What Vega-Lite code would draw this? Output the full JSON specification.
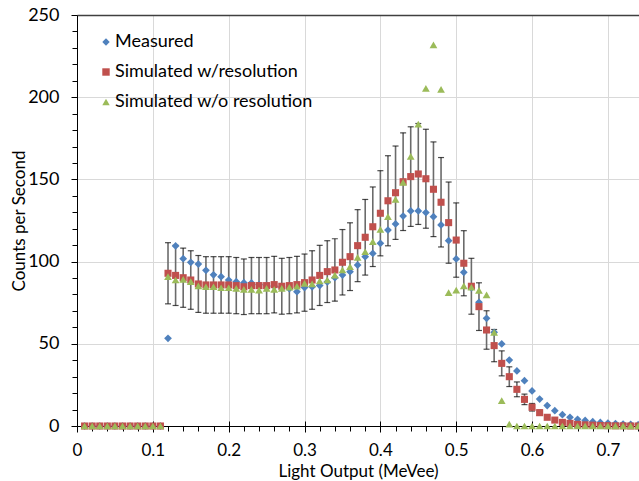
{
  "$schema": "https://vega.github.io/schema/vega-lite/v6.json",
  "width": 562,
  "height": 411,
  "autosize": {"type": "none"},
  "padding": {"left": 77, "top": 15, "right": 0, "bottom": 55},
  "background": "white",
  "config": {"view": {"stroke": null}, "font": "Lato"},
  "data": {"values": [
    {"x":0.01,"m":0,"r":0,"g":0},{"x":0.02,"m":0,"r":0,"g":0},{"x":0.03,"m":0,"r":0,"g":0},{"x":0.04,"m":0,"r":0,"g":0},{"x":0.05,"m":0,"r":0,"g":0},{"x":0.06,"m":0,"r":0,"g":0},{"x":0.07,"m":0,"r":0,"g":0},{"x":0.08,"m":0,"r":0,"g":0},{"x":0.09,"m":0,"r":0,"g":0},{"x":0.10,"m":0,"r":0,"g":0},{"x":0.11,"m":0,"r":0,"g":0},
    {"x":0.12,"m":53.3,"r":92.9,"g":90.8,"lo":74.3,"hi":111.5},
    {"x":0.13,"m":109.5,"r":91.6,"g":88.8,"lo":73.3,"hi":109.9},
    {"x":0.14,"m":101.8,"r":90.2,"g":89.2,"lo":72.2,"hi":108.2},
    {"x":0.15,"m":99.6,"r":88.8,"g":87.8,"lo":71.0,"hi":106.6},
    {"x":0.16,"m":98.5,"r":86.4,"g":85.2,"lo":69.1,"hi":103.7},
    {"x":0.17,"m":94.7,"r":85.8,"g":84.7,"lo":68.6,"hi":103.0},
    {"x":0.18,"m":92.0,"r":85.8,"g":84.7,"lo":68.6,"hi":103.0},
    {"x":0.19,"m":90.8,"r":85.8,"g":84.1,"lo":68.6,"hi":103.0},
    {"x":0.20,"m":88.8,"r":85.8,"g":84.1,"lo":68.6,"hi":103.0},
    {"x":0.21,"m":87.8,"r":85.4,"g":83.7,"lo":68.3,"hi":102.5},
    {"x":0.22,"m":87.2,"r":84.7,"g":83.1,"lo":67.8,"hi":101.6},
    {"x":0.23,"m":87.0,"r":85.4,"g":83.1,"lo":68.3,"hi":102.5},
    {"x":0.24,"m":86.0,"r":85.4,"g":82.7,"lo":68.3,"hi":102.5},
    {"x":0.25,"m":85.5,"r":85.4,"g":83.7,"lo":68.3,"hi":102.5},
    {"x":0.26,"m":85.0,"r":86.0,"g":83.1,"lo":68.8,"hi":103.2},
    {"x":0.27,"m":84.5,"r":85.0,"g":83.7,"lo":68.0,"hi":102.0},
    {"x":0.28,"m":83.5,"r":85.4,"g":84.4,"lo":68.3,"hi":102.5},
    {"x":0.29,"m":81.7,"r":86.0,"g":85.0,"lo":68.8,"hi":103.2},
    {"x":0.30,"m":84.2,"r":87.2,"g":86.8,"lo":69.8,"hi":104.6},
    {"x":0.31,"m":84.7,"r":88.8,"g":86.4,"lo":71.0,"hi":106.6},
    {"x":0.32,"m":85.4,"r":91.6,"g":88.2,"lo":73.3,"hi":109.9},
    {"x":0.33,"m":87.6,"r":93.9,"g":88.8,"lo":75.1,"hi":112.7},
    {"x":0.34,"m":90.2,"r":94.9,"g":91.8,"lo":75.9,"hi":113.9},
    {"x":0.35,"m":91.8,"r":99.6,"g":94.9,"lo":79.7,"hi":119.5},
    {"x":0.36,"m":93.9,"r":103.0,"g":96.9,"lo":82.4,"hi":123.6},
    {"x":0.37,"m":97.9,"r":109.7,"g":102.6,"lo":87.8,"hi":131.6},
    {"x":0.38,"m":103.0,"r":114.8,"g":106.0,"lo":91.8,"hi":137.8},
    {"x":0.39,"m":105.0,"r":121.2,"g":112.1,"lo":97.0,"hi":145.4},
    {"x":0.40,"m":111.1,"r":129.4,"g":119.6,"lo":103.5,"hi":155.3},
    {"x":0.41,"m":119.2,"r":137.0,"g":127.3,"lo":109.6,"hi":164.4},
    {"x":0.42,"m":122.9,"r":141.9,"g":137.9,"lo":113.5,"hi":170.3},
    {"x":0.43,"m":127.7,"r":148.6,"g":148.2,"lo":118.9,"hi":178.3},
    {"x":0.44,"m":130.8,"r":151.7,"g":164.0,"lo":121.4,"hi":182.0},
    {"x":0.45,"m":130.8,"r":153.3,"g":183.6,"lo":122.6,"hi":184.0},
    {"x":0.46,"m":129.8,"r":150.4,"g":205.4,"lo":120.3,"hi":180.5},
    {"x":0.47,"m":127.3,"r":144.0,"g":231.8,"lo":115.2,"hi":172.8},
    {"x":0.48,"m":122.3,"r":136.1,"g":204.8,"lo":108.9,"hi":163.3},
    {"x":0.49,"m":112.7,"r":123.7,"g":81.1,"lo":99.0,"hi":148.4},
    {"x":0.50,"m":101.6,"r":113.1,"g":82.7,"lo":90.5,"hi":135.7},
    {"x":0.51,"m":93.5,"r":99.0,"g":85.2,"lo":79.2,"hi":118.8},
    {"x":0.52,"m":84.0,"r":85.0,"g":84.4,"lo":68.0,"hi":102.0},
    {"x":0.53,"m":75.2,"r":72.6,"g":82.5,"lo":58.1,"hi":87.1},
    {"x":0.54,"m":65.5,"r":58.4,"g":79.7,"lo":46.7,"hi":70.1},
    {"x":0.55,"m":57.0,"r":48.9,"g":57.0,"lo":39.1,"hi":58.7},
    {"x":0.56,"m":49.9,"r":38.1,"g":15.4,"lo":30.5,"hi":45.7},
    {"x":0.57,"m":40.1,"r":30.0,"g":1.2,"lo":24.0,"hi":36.0},
    {"x":0.58,"m":33.5,"r":22.3,"g":0,"lo":17.8,"hi":26.8},
    {"x":0.59,"m":27.6,"r":16.2,"g":0,"lo":13.0,"hi":19.4},
    {"x":0.60,"m":21.3,"r":11.4,"g":0,"lo":9.1,"hi":13.7},
    {"x":0.61,"m":16.4,"r":8.1,"g":0,"lo":6.5,"hi":9.7},
    {"x":0.62,"m":12.4,"r":5.3,"g":0,"lo":4.2,"hi":6.4},
    {"x":0.63,"m":9.3,"r":3.6,"g":0,"lo":2.9,"hi":4.3},
    {"x":0.64,"m":6.9,"r":2.2,"g":0,"lo":1.8,"hi":2.6},
    {"x":0.65,"m":5.3,"r":1.6,"g":0,"lo":1.3,"hi":1.9},
    {"x":0.66,"m":4.1,"r":1.0,"g":0,"lo":0.8,"hi":1.2},
    {"x":0.67,"m":3.4,"r":0.7,"g":0},
    {"x":0.68,"m":2.6,"r":0.5,"g":0},
    {"x":0.69,"m":2.2,"r":0.3,"g":0},
    {"x":0.70,"m":1.8,"r":0.2,"g":0},
    {"x":0.71,"m":1.5,"r":0.1,"g":0},
    {"x":0.72,"m":1.2,"r":0.1,"g":0},
    {"x":0.73,"m":1.0,"r":0,"g":0},
    {"x":0.74,"m":0.8,"r":0,"g":0}
  ]},
  "resolve": {"axis": {"x": "independent", "y": "independent"}},
  "layer": [
    {
      "transform": [{"filter": "datum.hi != null"}],
      "mark": {"type": "rule", "color": "#6b6b6b", "strokeWidth": 1.6},
      "encoding": {
        "x": {"field": "x", "type": "quantitative", "scale": {"domain": [0, 0.741], "nice": false, "zero": false},
          "axis": {"orient": "bottom", "values": [0, 0.1, 0.2, 0.3, 0.4, 0.5, 0.6, 0.7], "format": "~g",
            "title": "Light Output (MeVee)", "titleFont": "Lato", "titleFontSize": 17, "titleFontWeight": "normal", "titleColor": "#000", "titlePadding": 5, "titleBaseline": "top",
            "labelFont": "Lato", "labelFontSize": 17, "labelColor": "#000", "labelPadding": 10, "labelFlush": false,
            "grid": true, "gridColor": "#d9d9d9", "gridWidth": 1,
            "domainColor": "#000", "domainWidth": 1, "tickColor": "#000", "tickSize": 6, "tickWidth": 1}},
        "y": {"field": "lo", "type": "quantitative", "scale": {"domain": [0, 250], "nice": false},
          "axis": {"orient": "left", "values": [0, 50, 100, 150, 200, 250], "format": "d",
            "title": "Counts per Second", "titleFont": "Lato", "titleFontSize": 17, "titleFontWeight": "normal", "titleColor": "#000", "titlePadding": -1,
            "labelFont": "Lato", "labelFontSize": 18, "labelColor": "#000", "labelPadding": 12,
            "grid": true,
            "gridColor": {"condition": {"test": "datum.value === 250", "value": "#404040"}, "value": "#d9d9d9"},
            "gridWidth": {"condition": {"test": "datum.value === 250", "value": 1.5}, "value": 1},
            "domainColor": "#000", "domainWidth": 1, "tickColor": "#000", "tickSize": 6, "tickWidth": 1}},
        "y2": {"field": "hi"}
      }
    },
    {
      "transform": [{"filter": "datum.hi != null"}],
      "mark": {"type": "tick", "orient": "horizontal", "size": 6, "thickness": 1.2, "color": "#000"},
      "encoding": {
        "x": {"field": "x", "type": "quantitative", "scale": {"domain": [0, 0.741], "nice": false, "zero": false},
          "axis": {"orient": "bottom", "values": [0.02, 0.04, 0.06, 0.08, 0.12, 0.14, 0.16, 0.18, 0.22, 0.24, 0.26, 0.28, 0.32, 0.34, 0.36, 0.38, 0.42, 0.44, 0.46, 0.48, 0.52, 0.54, 0.56, 0.58, 0.62, 0.64, 0.66, 0.68, 0.72, 0.74],
            "title": null, "labels": false, "grid": false, "domain": false, "tickColor": "#000", "tickSize": 5, "tickWidth": 1}},
        "y": {"field": "hi", "type": "quantitative", "scale": {"domain": [0, 250], "nice": false},
          "axis": {"orient": "left", "values": [10, 20, 30, 40, 60, 70, 80, 90, 110, 120, 130, 140, 160, 170, 180, 190, 210, 220, 230, 240],
            "title": null, "labels": false, "grid": false, "domain": false, "tickColor": "#000", "tickSize": 5, "tickWidth": 1}}
      }
    },
    {
      "transform": [{"filter": "datum.hi != null"}],
      "mark": {"type": "tick", "orient": "horizontal", "size": 6, "thickness": 1.2, "color": "#000"},
      "encoding": {
        "x": {"field": "x", "type": "quantitative", "scale": {"domain": [0, 0.741], "nice": false, "zero": false},
          "axis": {"orient": "bottom", "values": [0.1, 0.2, 0.3, 0.4, 0.5, 0.6, 0.7],
            "title": null, "labels": false, "grid": false, "domain": false, "tickColor": "#000", "tickSize": -5, "tickWidth": 1}},
        "y": {"field": "lo", "type": "quantitative", "scale": {"domain": [0, 250], "nice": false}, "axis": null}
      }
    },
    {
      "mark": {"type": "point", "filled": true, "opacity": 1, "size": 60},
      "encoding": {
        "x": {"field": "x", "type": "quantitative", "scale": {"domain": [0, 0.741], "nice": false, "zero": false}, "axis": null},
        "y": {"field": "m", "type": "quantitative", "scale": {"domain": [0, 250], "nice": false}, "axis": null},
        "color": {"datum": "Measured", "type": "nominal",
          "scale": {"domain": ["Measured", "Simulated w/resolution", "Simulated w/o resolution"], "range": ["#4f81bd", "#c0504d", "#9bbb59"]},
          "legend": {"orient": "none", "legendX": 20, "legendY": 18, "title": null, "padding": 0,
            "labelFont": "Lato", "labelFontSize": 18, "labelColor": "#000", "labelOffset": 0, "labelLimit": 0,
            "symbolSize": 55, "symbolStrokeWidth": 0, "rowPadding": 12}},
        "shape": {"datum": "Measured", "type": "nominal",
          "scale": {"domain": ["Measured", "Simulated w/resolution", "Simulated w/o resolution"], "range": ["diamond", "square", "triangle-up"]}}
      }
    },
    {
      "mark": {"type": "point", "filled": true, "opacity": 1, "size": 50},
      "encoding": {
        "x": {"field": "x", "type": "quantitative", "scale": {"domain": [0, 0.741], "nice": false, "zero": false}, "axis": null},
        "y": {"field": "r", "type": "quantitative", "scale": {"domain": [0, 250], "nice": false}, "axis": null},
        "color": {"datum": "Simulated w/resolution", "type": "nominal"},
        "shape": {"datum": "Simulated w/resolution", "type": "nominal"}
      }
    },
    {
      "mark": {"type": "point", "filled": true, "opacity": 1, "size": 60},
      "encoding": {
        "x": {"field": "x", "type": "quantitative", "scale": {"domain": [0, 0.741], "nice": false, "zero": false}, "axis": null},
        "y": {"field": "g", "type": "quantitative", "scale": {"domain": [0, 250], "nice": false}, "axis": null},
        "color": {"datum": "Simulated w/o resolution", "type": "nominal"},
        "shape": {"datum": "Simulated w/o resolution", "type": "nominal"}
      }
    }
  ]
}
